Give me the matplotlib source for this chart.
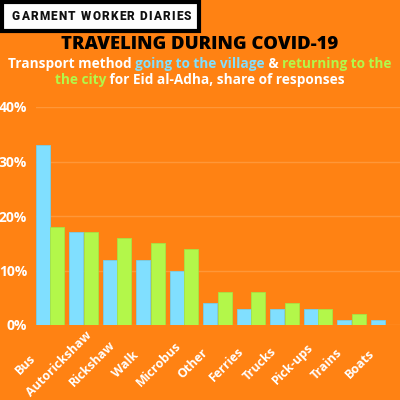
import matplotlib
matplotlib.use('Agg')
import matplotlib.pyplot as plt
import matplotlib.transforms as mtransforms
from matplotlib.patches import Rectangle

BG = '#FF8213'
GRID = '#FF9738'
BLUE = '#80DFFF'
GREEN = '#B3F74A'
FONT = 'Open Sans'

categories = ['Bus', 'Autorickshaw', 'Rickshaw', 'Walk', 'Microbus', 'Other',
              'Ferries', 'Trucks', 'Pick-ups', 'Trains', 'Boats']
to_village = [33, 17, 12, 12, 10, 4, 3, 3, 3, 1, 1]
to_city = [18, 17, 16, 15, 14, 6, 6, 4, 3, 2, 0]
yticks = [0, 10, 20, 30, 40]

fig = plt.figure(figsize=(4, 4), dpi=100, facecolor=BG)
ax = fig.add_axes([36/400., 75/400., 364/400., 218/400.])
ax.set_facecolor('none')
r = fig.canvas.get_renderer()

def width(s, **kw):
    # measure with a trailing bar so spaces count
    t = fig.text(0, 0, s + '|', **kw)
    w = t.get_window_extent(r).width
    t.remove()
    return w

def colored_line(pieces, ypx, **kw):
    bar = width('', **kw)
    full = width(''.join(s for s, c in pieces), **kw) - bar
    x0 = 200 - full / 2.
    prefix = ''
    for s, c in pieces:
        x = x0 + (width(prefix, **kw) - bar if prefix else 0)
        fig.text(x / 400., 1 - ypx / 400., s, color=c, ha='left',
                 va='baseline', **kw)
        prefix += s

# bars
xs = range(len(categories))
ax.bar([x - 0.215 for x in xs], to_village, width=0.41, color=BLUE,
       edgecolor='#74CFEA', linewidth=0.6, zorder=3)
ax.bar([x + 0.215 for x in xs], to_city, width=0.41, color=GREEN,
       edgecolor='#A6E443', linewidth=0.6, zorder=3)
ax.set_xlim(-0.418, 10.448)
ax.set_ylim(0, 40)
ax.set_yticks(yticks)
ax.set_yticklabels(['%d%%' % v for v in yticks], color='white',
                   fontsize=10, fontweight='bold', family=FONT)
ax.tick_params(axis='y', length=0, pad=6.5)
ax.set_xticks([])
ax.yaxis.grid(True, color=GRID, linewidth=1, zorder=0)
for s in ax.spines.values():
    s.set_visible(False)

trans = mtransforms.blended_transform_factory(ax.transData, ax.transAxes)
for i, name in enumerate(categories):
    ax.text(i - 0.74, -39 / 218., name, transform=trans, rotation=45,
            rotation_mode='anchor', ha='center', va='center', color='white',
            fontsize=9, fontweight='bold', family=FONT)

# header box
fig.patches.append(Rectangle((1.5/400., 1 - 31/400.), 197/400., 29.5/400.,
                             transform=fig.transFigure, facecolor='white',
                             edgecolor='black', linewidth=3))
hkw = dict(fontsize=8.5, fontweight='black', family='Roboto')
bar = width('', **hkw)
x = 12.
for ch in 'GARMENT WORKER DIARIES':
    fig.text(x / 400., 1 - 19.5 / 400., ch, color='#111111', ha='left',
             va='baseline', **hkw)
    x += width(ch, **hkw) - bar + 1.2

colored_line([('TRAVELING DURING COVID-19', 'black')], 49,
             fontsize=13.3, fontweight='heavy', family=FONT)
colored_line([('Transport method ', 'white'), ('going to the village', BLUE),
              (' & ', 'white'), ('returning to the', GREEN)], 68,
             fontsize=9.8, fontweight='bold', family=FONT)
colored_line([('the city', GREEN),
              (' for Eid al-Adha, share of responses', 'white')], 84,
             fontsize=9.8, fontweight='bold', family=FONT)

fig.savefig('out.png', facecolor=BG)
